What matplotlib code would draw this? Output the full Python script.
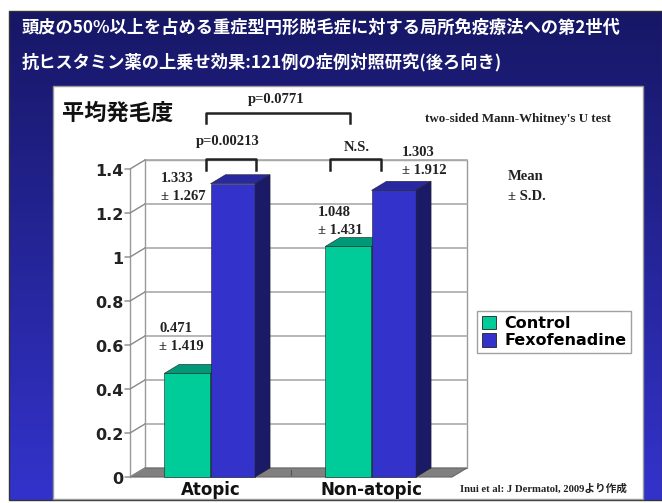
import matplotlib
matplotlib.use("Agg")
import matplotlib.pyplot as plt
import numpy as np
from matplotlib.patches import Polygon, Rectangle, Patch

plt.rcParams["font.family"] = ["Noto Sans CJK JP", "DejaVu Sans"]

# data
categories = ["Atopic", "Non-atopic"]
series = ["Control", "Fexofenadine"]
control_mean = [0.471, 1.048]
control_sd = [1.419, 1.431]
fexo_mean = [1.333, 1.303]
fexo_sd = [1.267, 1.912]
yticks = [0, 0.2, 0.4, 0.6, 0.8, 1, 1.2, 1.4]
ytick_labels = ["0", "0.2", "0.4", "0.6", "0.8", "1", "1.2", "1.4"]

title1 = "頭皮の50%以上を占める重症型円形脱毛症に対する局所免疫療法への第2世代"
title2 = "抗ヒスタミン薬の上乗せ効果:121例の症例対照研究(後ろ向き)"

W, H = 662, 503
fig = plt.figure(figsize=(W / 100, H / 100), dpi=100)


def px(x, y):
    return x / W, 1 - y / H


# background slide
bg = fig.add_axes([0, 0, 1, 1])
bg.set_xlim(0, W)
bg.set_ylim(H, 0)
bg.axis("off")
grad = np.linspace(0, 1, 256)[:, None]
top = np.array([0.09, 0.09, 0.40])
bot = np.array([0.20, 0.20, 0.80])
img = top + (bot - top) * grad[..., None]
img = np.repeat(img, 2, axis=1)
bg.imshow(img, extent=(9, W, 500, 11), aspect="auto", zorder=0)
bg.add_patch(Rectangle((9, 11), W - 9, 489, fill=False, ec="#333333", lw=1, zorder=1))
bg.add_patch(Rectangle((53, 86), 590, 413, fc="white", ec="#999999", lw=1, zorder=2))

fig.text(*px(22, 28), title1, color="white", fontsize=12.4, fontweight="bold", va="center")
fig.text(*px(22, 62), title2, color="white", fontsize=12.4, fontweight="bold", va="center")

# chart axes (front plane)
ax = fig.add_axes([130 / W, 1 - 477 / H, 322 / W, 308 / H])
ax.set_xlim(0, 2)
ax.set_ylim(0, 1.4)
ax.axis("off")

dx, dy = 0.093, 0.041
ymax = 1.4
sans = ["DejaVu Sans", "Noto Sans CJK JP"]

# floor
ax.add_patch(Polygon([(0, 0), (2, 0), (2 + dx, dy), (dx, dy)], closed=True,
                     fc="#808080", ec="#666666", lw=0.8, clip_on=False, zorder=1))
# back wall
ax.add_patch(Rectangle((dx, dy), 2, ymax, fc="white", ec="#999999", lw=1, clip_on=False, zorder=0))
# left wall
ax.plot([0, 0], [0, ymax], color="#999999", lw=1, clip_on=False, zorder=1)
for v, lab in zip(yticks, ytick_labels):
    if v > 0:
        ax.plot([dx, 2 + dx], [v + dy, v + dy], color="#aaaaaa", lw=1.2, clip_on=False, zorder=1)
    ax.plot([-0.03, 0, dx], [v, v, v + dy], color="#888888", lw=1, clip_on=False, zorder=1)
    ax.text(-0.04, v - 0.012, lab, ha="right", va="center", fontsize=11.5, family=sans,
            fontweight="bold", color="#222222")
# floor category divider
ax.plot([1, 1], [0.01, 0.03], color="#555555", lw=0.8, clip_on=False, zorder=2)


def bar3d(x0, x1, v, front, topc, side):
    ax.add_patch(Rectangle((x0, 0), x1 - x0, v, fc=front, ec="#222222", lw=0.4,
                           clip_on=False, zorder=3))
    ax.add_patch(Polygon([(x0, v), (x1, v), (x1 + dx, v + dy), (x0 + dx, v + dy)], closed=True,
                         fc=topc, ec="#222222", lw=0.4, clip_on=False, zorder=3))
    ax.add_patch(Polygon([(x1, 0), (x1 + dx, dy), (x1 + dx, v + dy), (x1, v)], closed=True,
                         fc=side, ec="#222222", lw=0.4, clip_on=False, zorder=3))


width = 0.287
ctrl_c = ("#00CC99", "#009977", "#007755")
fexo_c = ("#3333CC", "#2828A0", "#1A1A66")
for i in range(len(categories)):
    c = i + 0.5
    bar3d(c - width, c, control_mean[i], *ctrl_c)
    bar3d(c, c + width - 0.01, fexo_mean[i], *fexo_c)
    ax.text(c, -0.06, categories[i], ha="center", va="center", fontsize=12, family=sans,
            fontweight="bold", color="#111111")

serif = ["Liberation Serif", "Noto Sans CJK JP"]


def bracket(x0, x1, ytop, ylow):
    ax.plot([x0, x0, x1, x1], [ylow, ytop, ytop, ylow], color="#222222", lw=1.8,
            clip_on=False, zorder=4)


bracket(0.47, 0.78, 1.445, 1.395)
bracket(1.24, 1.56, 1.445, 1.395)
bracket(0.47, 1.366, 1.655, 1.609)

fig.text(*px(276, 100), "p=0.0771", family=serif, fontweight="bold", fontsize=10.5,
         ha="center", va="center", color="#222222")
fig.text(*px(228, 141), "p=0.00213", family=serif, fontweight="bold", fontsize=10.5,
         ha="center", va="center", color="#222222")
fig.text(*px(357, 147), "N.S.", family=serif, fontweight="bold", fontsize=10.5,
         ha="center", va="center", color="#222222")
fig.text(*px(425, 119), "two-sided Mann-Whitney's U test", family=serif, fontweight="bold",
         fontsize=9.4, ha="left", va="center", color="#222222")
fig.text(*px(62, 113), "平均発毛度", fontweight="bold", fontsize=16, ha="left", va="center",
         color="#111111")

# value labels
label_pos = {
    ("c", 0): (159, 329),
    ("c", 1): (318, 213),
    ("f", 0): (161, 178),
    ("f", 1): (402, 153),
}
for i in range(len(categories)):
    for key, m, s in (("c", control_mean[i], control_sd[i]), ("f", fexo_mean[i], fexo_sd[i])):
        x, y = label_pos[(key, i)]
        fig.text(*px(x, y), f"{m:.3f}", family=serif, fontweight="bold", fontsize=10.5,
                 ha="left", va="center", color="#222222")
        fig.text(*px(x, y + 18), f"± {s:.3f}", family=serif, fontweight="bold", fontsize=10.5,
                 ha="left", va="center", color="#222222")

fig.text(*px(508, 177), "Mean", family=serif, fontweight="bold", fontsize=10.5,
         ha="left", va="center", color="#222222")
fig.text(*px(508, 196), "± S.D.", family=serif, fontweight="bold", fontsize=10.5,
         ha="left", va="center", color="#222222")
fig.text(*px(460, 489), "Inui et al: J Dermatol, 2009より作成", family=serif,
         fontweight="bold", fontsize=7.7, ha="left", va="center", color="#222222")

handles = [Patch(fc=ctrl_c[0], ec="#222222", lw=0.6, label=series[0]),
           Patch(fc=fexo_c[0], ec="#222222", lw=0.6, label=series[1])]
leg = fig.legend(handles=handles, loc="upper left", bbox_to_anchor=px(477, 311),
                 frameon=True, fancybox=False, edgecolor="#888888", borderaxespad=0,
                 prop={"family": sans, "weight": "bold", "size": 11.5}, handlelength=0.9,
                 handleheight=0.9, handletextpad=0.5, borderpad=0.3, labelspacing=0.15)
leg.get_frame().set_linewidth(1)

fig.savefig("out.png", dpi=100)
